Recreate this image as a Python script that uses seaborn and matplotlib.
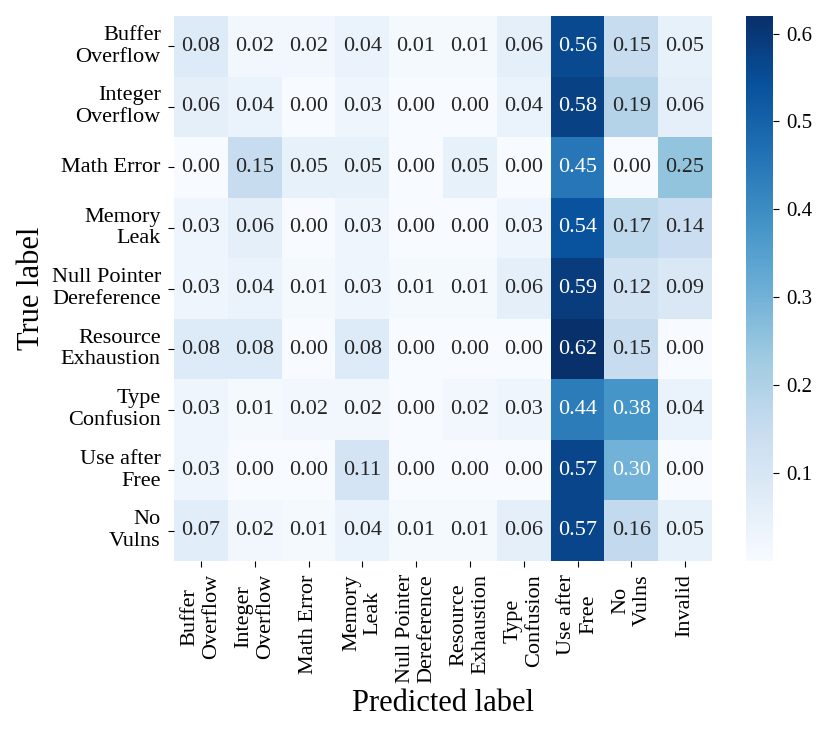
import numpy as np
import pandas as pd
import matplotlib
matplotlib.use("Agg")
import matplotlib.pyplot as plt
import seaborn as sns

row_labels = ["Buffer\nOverflow", "Integer\nOverflow", "Math Error", "Memory\nLeak",
              "Null Pointer\nDereference", "Resource\nExhaustion", "Type\nConfusion",
              "Use after\nFree", "No\nVulns"]
col_labels = ["Buffer\nOverflow", "Integer\nOverflow", "Math Error", "Memory\nLeak",
              "Null Pointer\nDereference", "Resource\nExhaustion", "Type\nConfusion",
              "Use after\nFree", "No\nVulns", "Invalid"]

buffer_overflow = [0.08, 0.02, 0.02, 0.04, 0.01, 0.01, 0.06, 0.56, 0.15, 0.05]
integer_overflow = [0.06, 0.04, 0.00, 0.03, 0.00, 0.00, 0.04, 0.58, 0.19, 0.06]
math_error = [0.00, 0.15, 0.05, 0.05, 0.00, 0.05, 0.00, 0.45, 0.00, 0.25]
memory_leak = [0.03, 0.06, 0.00, 0.03, 0.00, 0.00, 0.03, 0.54, 0.17, 0.14]
null_pointer = [0.03, 0.04, 0.01, 0.03, 0.01, 0.01, 0.06, 0.59, 0.12, 0.09]
resource_exhaustion = [0.08, 0.08, 0.00, 0.08, 0.00, 0.00, 0.00, 0.62, 0.15, 0.00]
type_confusion = [0.03, 0.01, 0.02, 0.02, 0.00, 0.02, 0.03, 0.44, 0.38, 0.04]
use_after_free = [0.03, 0.00, 0.00, 0.11, 0.00, 0.00, 0.00, 0.57, 0.30, 0.00]
no_vulns = [0.07, 0.02, 0.01, 0.04, 0.01, 0.01, 0.06, 0.57, 0.16, 0.05]

matrix = np.array([buffer_overflow, integer_overflow, math_error, memory_leak,
                   null_pointer, resource_exhaustion, type_confusion,
                   use_after_free, no_vulns])
df = pd.DataFrame(matrix, index=row_labels, columns=col_labels)

plt.rcParams['font.family'] = ['Liberation Serif', 'DejaVu Serif']

W, H = 831, 736
fig = plt.figure(figsize=(W / 100, H / 100), dpi=100)
ax = fig.add_axes([174 / W, 1 - 561 / H, 538 / W, 545 / H])
cax = fig.add_axes([746 / W, 1 - 561 / H, 27 / W, 545 / H])

sns.heatmap(df, ax=ax, cbar_ax=cax, cmap="Blues", annot=True, fmt=".2f",
            annot_kws={"size": 16}, vmin=0.0, vmax=0.62)

ax.set_xlabel("Predicted label", fontsize=22)
ax.set_ylabel("True label", fontsize=22)
ax.tick_params(axis='both', labelsize=16, length=4.5, pad=5)
plt.setp(ax.get_xticklabels(), rotation=90)
plt.setp(ax.get_yticklabels(), rotation=0)
cax.tick_params(labelsize=15, length=4.5, pad=5)
cax.set_yticks([0.1, 0.2, 0.3, 0.4, 0.5, 0.6])

fig.savefig("out.png", dpi=100)
